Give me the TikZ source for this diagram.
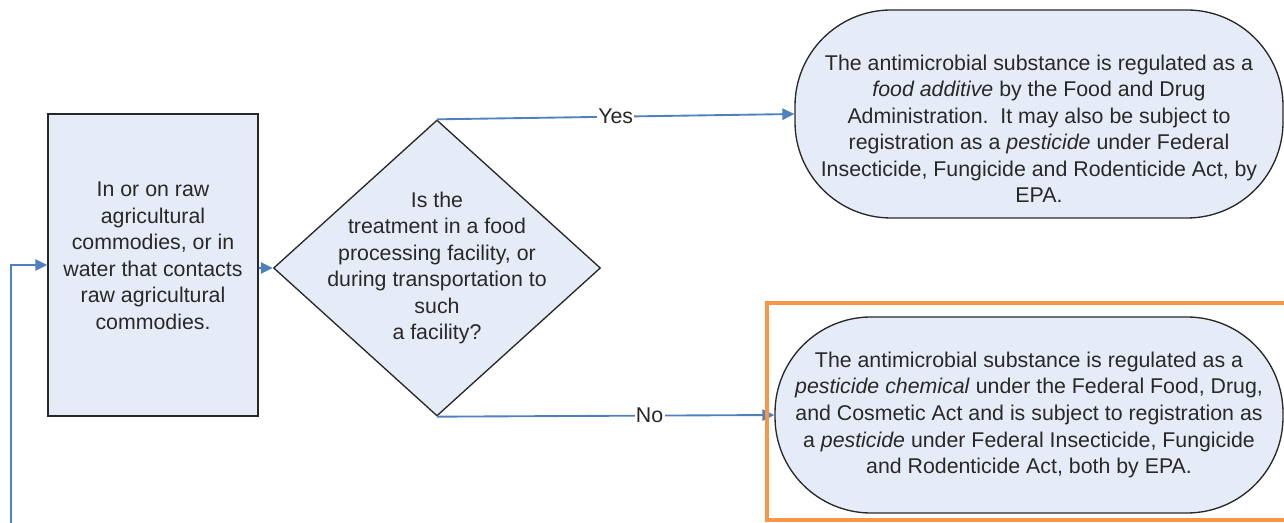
\documentclass[tikz,border=0pt]{standalone}
\usepackage{fontspec}
\setmainfont{Liberation Sans}
\usetikzlibrary{arrows.meta,shapes.geometric}
\definecolor{boxfill}{RGB}{230,236,247}
\definecolor{flowblue}{RGB}{79,129,189}
\definecolor{hilite}{RGB}{247,150,70}
\definecolor{ink}{RGB}{40,40,40}
\begin{document}
\begin{tikzpicture}[x=0.75pt,y=-0.75pt,
  every node/.style={font=\fontsize{16}{19.9}\selectfont, text=ink},
  shapebox/.style={draw=ink, line width=1pt, fill=boxfill},
  procbox/.style={shapebox, rectangle, minimum width=157.5pt, minimum height=226.5pt, inner sep=0pt},
  decbox/.style={shapebox, diamond, minimum width=245.25pt, minimum height=222pt, inner sep=0pt},
  termbox/.style={shapebox, rectangle, rounded corners=72pt, inner sep=0pt},
  flow/.style={draw=flowblue, line width=1.4pt, -{Triangle[length=9pt,width=8.5pt]}},
  flowlabel/.style={fill=white, inner sep=1pt},
  txt/.style={align=center, inner sep=0pt}
]
\useasboundingbox (0,0) rectangle (1284,523);

\node[procbox, label={[name=proctext, txt, yshift=7pt]center:In or on raw\\agricultural\\commodies, or in\\water that contacts\\raw agricultural\\commodies.}] (proc) at (153,265) {};

\node[decbox, label={[name=dectext, txt]center:Is the\\treatment in a food\\processing facility, or\\during transportation to\\such\\a facility?}] (dec) at (437,268) {};

\node[termbox, minimum width=366pt, minimum height=156pt, label={[name=yestext, txt, yshift=-11pt]center:The antimicrobial substance is regulated as a\\\textit{food additive} by the Food and Drug\\Administration.\ \ It may also be subject to\\registration as a \textit{pesticide} under Federal\\Insecticide, Fungicide and Rodenticide Act, by\\EPA.}] (yesterm) at (1039,114) {};

\node[termbox, minimum width=381pt, minimum height=147pt, label={[name=notext, txt]center:The antimicrobial substance is regulated as a\\\textit{pesticide chemical} under the Federal Food, Drug,\\and Cosmetic Act and is subject to registration as\\a \textit{pesticide} under Federal Insecticide, Fungicide\\and Rodenticide Act, both by EPA.}] (noterm) at (1029,415) {};

\coordinate (loopstart) at (11,530);
\draw[flow] (loopstart) |- (proc.west);
\draw[flow] (proc.east |- dec.west) -- (dec.west);
\draw[flow] (dec.north) -- node[flowlabel] (yeslbl) {Yes} (yesterm.west);
\draw[flow] (dec.south) -- node[flowlabel, pos=0.63] (nolbl) {No} (noterm.west);

\draw[hilite, line width=3pt] (767,303) rectangle (1300,520);
\end{tikzpicture}
\end{document}
